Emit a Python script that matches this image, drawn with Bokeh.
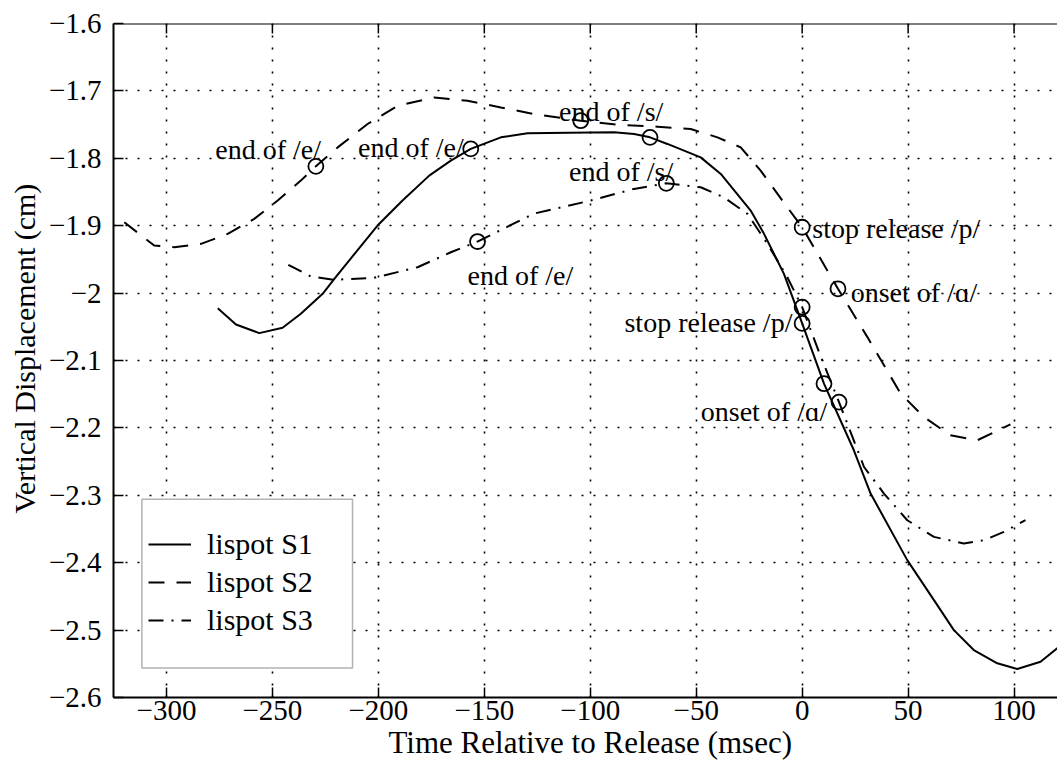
from bokeh.plotting import figure
from bokeh.models import (Range1d, FixedTicker, Title, Legend, LegendItem, Span,
                          BoxAnnotation, ColumnDataSource)
from bokeh.embed import file_html
from bokeh.resources import INLINE
from bokeh.core.properties import value

# ---------------- data ----------------
s1_x = [-275.8, -267.2, -256.2, -245.2, -236.6, -226.3, -220.8, -200.4, -188.6, -176.0, -165.8,
        -156.4, -142.2, -129.6, -110.0, -88.8, -79.3, -71.8, -63.6, -47.9, -38.4, -24.3, -18.0,
        -8.6, 0.0, 10.3, 24.4, 32.3, 49.6, 62.2, 71.6, 81.0, 92.1, 101.5, 112.5, 120.5]
s1_y = [-2.0223, -2.0465, -2.0594, -2.0514, -2.0306, -2.0010, -1.9788, -1.8998, -1.8627, -1.8257,
        -1.8035, -1.7861, -1.7689, -1.7630, -1.7622, -1.7615, -1.7639, -1.7689, -1.7787, -1.7986,
        -1.8232, -1.8776, -1.9121, -1.9714, -2.045, -2.1344, -2.2332, -2.2974, -2.3962, -2.4555,
        -2.5000, -2.5296, -2.5493, -2.5578, -2.5470, -2.5267]

s2_x = [-319.9, -305.8, -296.3, -283.7, -271.1, -258.6, -247.5, -236.6, -229.5, -219.2, -205.1,
        -190.9, -173.7, -157.9, -142.2, -126.5, -104.5, -87.2, -68.3, -52.6, -40.0, -29.0, -19.6,
        -7.0, 0.0, 16.9, 30.8, 46.5, 57.5, 70.0, 82.6, 98.3]
s2_y = [-1.8949, -1.9294, -1.9319, -1.9269, -1.9121, -1.8899, -1.8627, -1.8331, -1.8119, -1.7838,
        -1.7491, -1.7220, -1.7097, -1.7146, -1.7245, -1.7343, -1.7442, -1.7501, -1.7531, -1.7565,
        -1.7689, -1.7838, -1.8183, -1.8727, -1.9023, -1.9936, -2.0653, -2.1492, -2.1839, -2.2110,
        -2.2184, -2.1947]

s3_x = [-242.5, -231.8, -220.8, -202.0, -181.5, -165.8, -153.2, -126.5, -99.8, -79.4, -64.1,
        -47.9, -36.9, -25.8, -16.4, -7.0, 0.0, 8.0, 17.4, 29.2, 38.6, 49.6, 62.2, 76.3, 85.8,
        95.2, 105.4]
s3_y = [-1.958, -1.9754, -1.9803, -1.9773, -1.9616, -1.9394, -1.9235, -1.882, -1.8627, -1.8454,
        -1.8371, -1.8430, -1.8579, -1.8825, -1.9269, -1.9764, -2.0209, -2.088, -2.1617, -2.2580,
        -2.2974, -2.3370, -2.3617, -2.3715, -2.3666, -2.3543, -2.3370]

marker_x = [-156.4, -71.8, 0.0, 10.3, -229.5, -104.5, 0.0, 16.9, -153.2, -64.1, 0.0, 17.4]
marker_y = [-1.7861, -1.7689, -2.045, -2.1344, -1.8119, -1.7442, -1.9023, -1.9936,
            -1.9235, -1.8371, -2.0209, -2.1617]

# annotations ending at their x (right aligned)
ann_r_x = [-227.1, -159.7, -4.6, 11.9]
ann_r_y = [-1.7876, -1.7838, -2.0431, -2.175]
ann_r_text = ["end of /e/", "end of /e/", "stop release /p/", "onset of /\u0251/"]
# annotations starting at their x (left aligned)
ann_l_x = [-114.7, -110.0, -157.9, 4.8, 22.9]
ann_l_y = [-1.7304, -1.8193, -1.9739, -1.9047, -1.9986]
ann_l_text = ["end of /s/", "end of /s/", "end of /e/", "stop release /p/", "onset of /\u0251/"]

series_names = ["lispot S1", "lispot S2", "lispot S3"]
x_title = "Time Relative to Release (msec)"
y_title = "Vertical Displacement (cm)"

xticks = [-300, -250, -200, -150, -100, -50, 0, 50, 100]
xtick_labels = ["\u2212300", "\u2212250", "\u2212200", "\u2212150", "\u2212100", "\u221250", "0", "50", "100"]
yticks = [-2.6, -2.5, -2.4, -2.3, -2.2, -2.1, -2.0, -1.9, -1.8, -1.7, -1.6]
ytick_labels = ["\u22122.6", "\u22122.5", "\u22122.4", "\u22122.3", "\u22122.2", "\u22122.1", "\u22122",
                "\u22121.9", "\u22121.8", "\u22121.7", "\u22121.6"]

FONT = "Liberation Serif"
Y_TOP = -1.6
TICK_LEN = 10 / 674.8  # inward tick length of the top axis, in data units

# ---------------- figure ----------------
p = figure(width=1057, height=770, output_backend="svg", toolbar_location=None,
           x_range=Range1d(-325.0, 120.5), y_range=Range1d(-2.6, Y_TOP),
           min_border_left=113, min_border_right=0, min_border_top=23, min_border_bottom=73)
p.outline_line_color = None
p.background_fill_color = "white"
p.border_fill_color = "white"

xt = FixedTicker(ticks=xticks)
yt = FixedTicker(ticks=yticks)

for ax in (p.xaxis[0], p.yaxis[0]):
    ax.axis_line_width = 2
    ax.axis_line_color = "black"
    ax.major_tick_in = 10
    ax.major_tick_out = 0
    ax.minor_tick_in = 0
    ax.minor_tick_out = 0
    ax.major_tick_line_width = 1.5
    ax.major_tick_line_color = "black"
    ax.major_label_text_font = FONT
    ax.major_label_text_font_size = "29px"
    ax.major_label_text_color = "black"

p.xaxis[0].ticker = xt
p.xaxis[0].major_label_overrides = dict(zip(xticks, xtick_labels))
p.xaxis[0].major_label_standoff = 3
p.yaxis[0].ticker = yt
p.yaxis[0].major_label_overrides = dict(zip(yticks, ytick_labels))
p.yaxis[0].major_label_standoff = 12

# top frame line with inward ticks
p.add_layout(Span(location=Y_TOP, dimension="width", line_color="black", line_width=2))
p.segment(x0=xticks, y0=[Y_TOP] * len(xticks), x1=xticks, y1=[Y_TOP - TICK_LEN] * len(xticks),
          line_color="black", line_width=1.5)

for g, t in ((p.xgrid[0], xt), (p.ygrid[0], yt)):
    g.ticker = t
    g.grid_line_color = "black"
    g.grid_line_width = 1.6
    g.grid_line_dash = "2 10"

# ---------------- series ----------------
r1 = p.line(s1_x, s1_y, line_color="black", line_width=2)
r2 = p.line(s2_x, s2_y, line_color="black", line_width=2, line_dash="16 12")
r3 = p.line(s3_x, s3_y, line_color="black", line_width=2, line_dash="15 8 2 8")

p.scatter(marker_x, marker_y, marker="circle", size=15, fill_color=None,
          line_color="black", line_width=1.8)

src_r = ColumnDataSource(dict(x=ann_r_x, y=ann_r_y, t=ann_r_text))
src_l = ColumnDataSource(dict(x=ann_l_x, y=ann_l_y, t=ann_l_text))
p.text(x="x", y="y", text="t", source=src_r, text_align="right", text_baseline="alphabetic",
       text_font=value(FONT), text_font_size="28px", text_color="black")
p.text(x="x", y="y", text="t", source=src_l, text_align="left", text_baseline="alphabetic",
       text_font=value(FONT), text_font_size="28px", text_color="black")

# ---------------- legend ----------------
box = BoxAnnotation(left=-311.6, right=-212.2, top=-2.3058, bottom=-2.5563,
                    fill_color="white", fill_alpha=1.0, line_color="black", line_width=1.5)
p.add_layout(box)

legend = Legend(items=[LegendItem(label=series_names[0], renderers=[r1]),
                       LegendItem(label=series_names[1], renderers=[r2]),
                       LegendItem(label=series_names[2], renderers=[r3])],
                location=(35, 60), padding=0, margin=0, border_line_color=None,
                background_fill_alpha=0, label_text_font=FONT, label_text_font_size="30px",
                label_text_color="black",
                glyph_width=43, glyph_height=30, label_height=30, spacing=4, label_standoff=16)
p.add_layout(legend)

# ---------------- axis titles ----------------
p.add_layout(Title(text=x_title, align="left", offset=275, standoff=4, vertical_align="top",
                   text_font=FONT, text_font_size="31px", text_font_style="normal",
                   text_color="black"), "below")
p.add_layout(Title(text=y_title, align="left", offset=184, standoff=10, text_font=FONT,
                   text_font_size="30px", text_font_style="normal", text_color="black"), "left")

open("out.html", "w").write(file_html(p, INLINE))
